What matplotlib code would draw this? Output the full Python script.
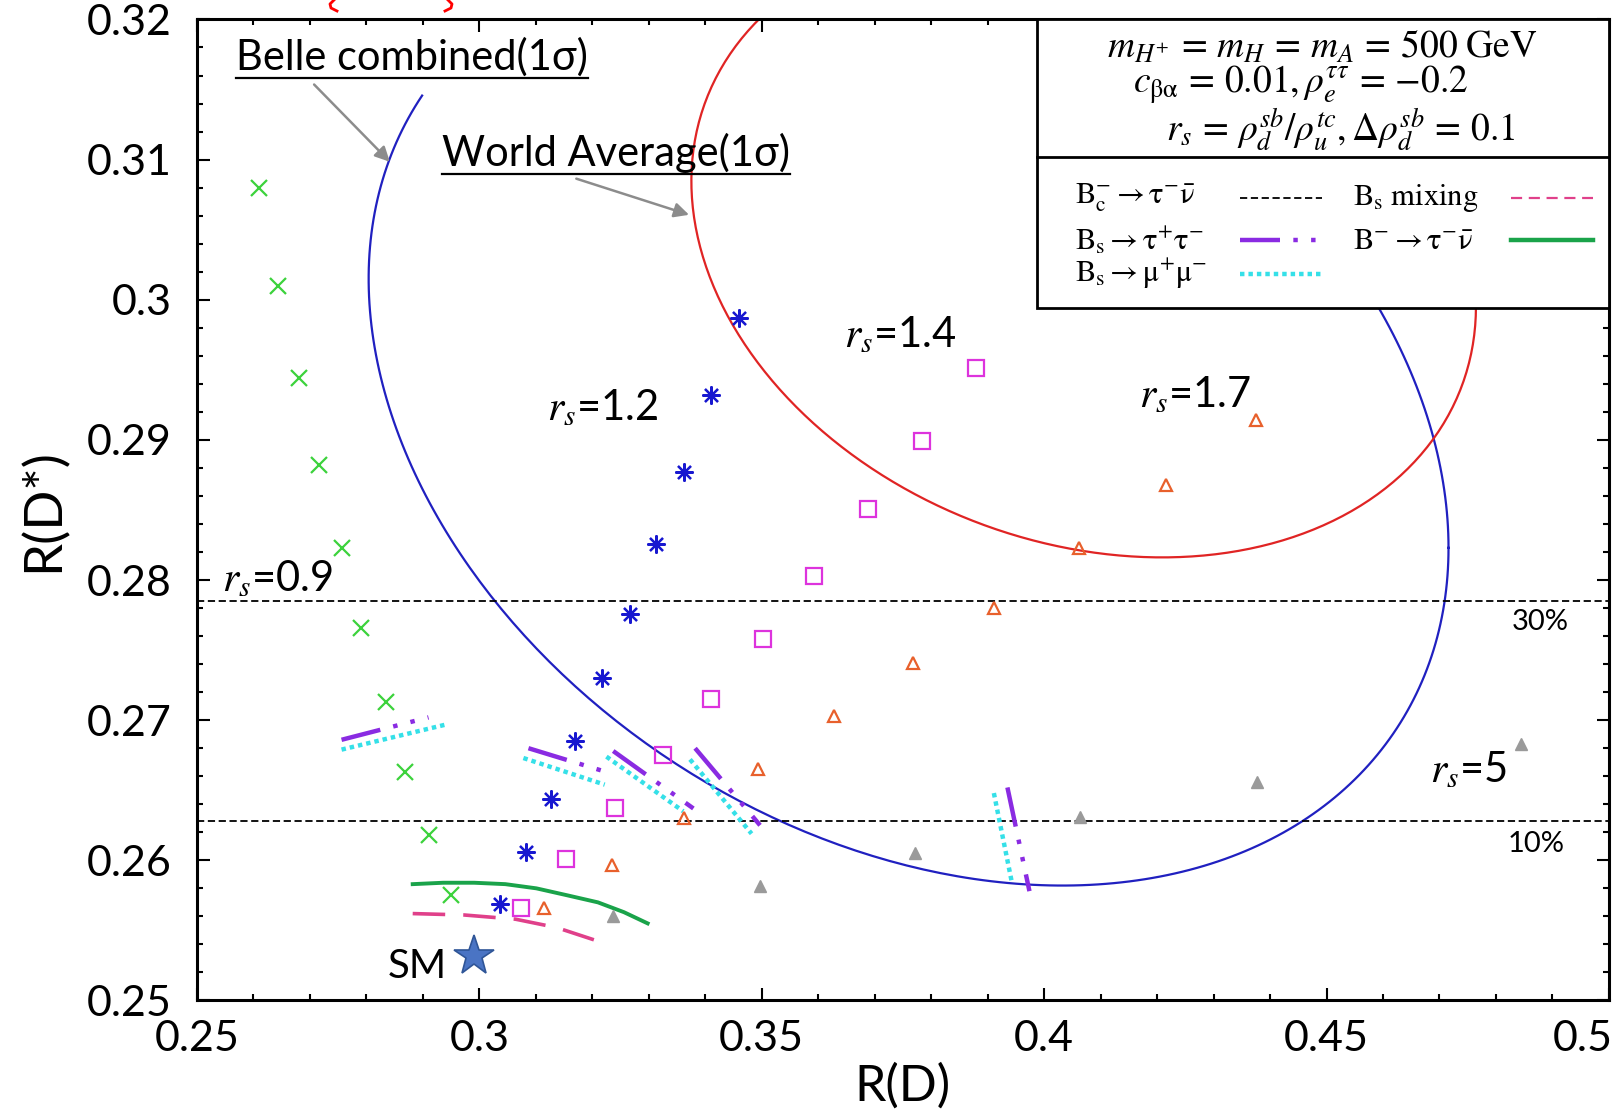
import numpy as np
import matplotlib
matplotlib.use("Agg")
import matplotlib.pyplot as plt
from matplotlib.patches import Rectangle
from matplotlib.lines import Line2D
from matplotlib.ticker import MultipleLocator, FuncFormatter

plt.rcParams['font.family'] = ['Lato', 'DejaVu Sans']
plt.rcParams['mathtext.fontset'] = 'stix'

# points for each r_s value: (R(D), R(D*))
rd_09 = [0.2609, 0.2644, 0.2680, 0.2716, 0.2756, 0.2791, 0.2835, 0.2869, 0.2911, 0.2949]
rds_09 = [0.3080, 0.3010, 0.2944, 0.2882, 0.2823, 0.2766, 0.2713, 0.2663, 0.2618, 0.2575]
rd_12 = [0.3460, 0.3411, 0.3362, 0.3312, 0.3266, 0.3217, 0.3170, 0.3127, 0.3082, 0.3036]
rds_12 = [0.2987, 0.2932, 0.2877, 0.2826, 0.2776, 0.2730, 0.2685, 0.2644, 0.2606, 0.2569]
rd_14 = [0.3880, 0.3784, 0.3688, 0.3593, 0.3502, 0.3411, 0.3325, 0.3240, 0.3153, 0.3073]
rds_14 = [0.2951, 0.2899, 0.2851, 0.2803, 0.2758, 0.2715, 0.2675, 0.2637, 0.2601, 0.2566]
rd_17 = [0.4375, 0.4216, 0.4062, 0.3912, 0.3767, 0.3628, 0.3494, 0.3362, 0.3235, 0.3115]
rds_17 = [0.2914, 0.2868, 0.2823, 0.2780, 0.2741, 0.2703, 0.2665, 0.2630, 0.2597, 0.2566]
rd_5 = [0.4845, 0.4377, 0.4064, 0.3771, 0.3497, 0.3236]
rds_5 = [0.2683, 0.2656, 0.2631, 0.2605, 0.2582, 0.2560]

# standard model point
sm_rd, sm_rds = 0.2991, 0.2532

# constraint boundaries
bc_30 = 0.2785
bc_10 = 0.2628
btau_rd = [0.2882, 0.2936, 0.2991, 0.3046, 0.3101, 0.3156, 0.3210, 0.3256, 0.3298]
btau_rds = [0.2583, 0.2584, 0.2584, 0.2583, 0.2580, 0.2575, 0.2570, 0.2563, 0.2555]
mix_rd = [0.2882, 0.2973, 0.3064, 0.3137, 0.3205]
mix_rds = [0.2562, 0.2561, 0.2558, 0.2552, 0.2543]
tautau_rd = [[0.2756, 0.2910], [0.3087, 0.3225], [0.3237, 0.3379], [0.3382, 0.3497], [0.3935, 0.3974]]
tautau_rds = [[0.2686, 0.2702], [0.2680, 0.2663], [0.2678, 0.2637], [0.2680, 0.2625], [0.2652, 0.2578]]
mumu_rd = [[0.2756, 0.2942], [0.3078, 0.3222], [0.3225, 0.3361], [0.3373, 0.3482], [0.3911, 0.3943]]
mumu_rds = [[0.2679, 0.2697], [0.2673, 0.2654], [0.2674, 0.2635], [0.2672, 0.2619], [0.2648, 0.2584]]

# experimental ellipses: centre, sigmas, correlation, contour scale
belle_c = (0.376, 0.2919)
belle_sig = (0.0956, 0.0337)
belle_rho = -0.285
belle_k = 1.0
wa_c = (0.407, 0.304)
wa_sig = (0.0458, 0.01476)
wa_rho = -0.20
wa_k = np.sqrt(2.3)


def ellipse(c, sig, rho, k, n=400):
    cov = np.array([[sig[0]**2, rho*sig[0]*sig[1]], [rho*sig[0]*sig[1], sig[1]**2]])
    L = np.linalg.cholesky(cov)
    t = np.linspace(0, 2*np.pi, n)
    pts = k * L @ np.vstack([np.cos(t), np.sin(t)])
    return c[0] + pts[0], c[1] + pts[1]


fig = plt.figure(figsize=(16.17, 11.12), dpi=100)
ax = fig.add_axes([0.1218, 0.1003, 0.8732, 0.8822])
ax.set_xlim(0.25, 0.5)
ax.set_ylim(0.25, 0.32)

# Belle ellipse, open at its upper-left end
bx, by = ellipse(belle_c, belle_sig, belle_rho, belle_k)
cut = (bx < 0.33) & (by > 0.3148)
bx[cut] = np.nan
by[cut] = np.nan
ax.plot(bx, by, color='#2020c0', lw=1.6, zorder=2)
wx, wy = ellipse(wa_c, wa_sig, wa_rho, wa_k)
ax.plot(wx, wy, color='#e02424', lw=1.6, zorder=2)

ax.axhline(bc_30, color='k', lw=1.3, ls=(0, (4, 2)), zorder=2)
ax.axhline(bc_10, color='k', lw=1.3, ls=(0, (4, 2)), zorder=2)

tt_style = dict(color='#8a2be2', lw=3.2, ls=(0, (9, 3, 1, 3, 1, 3)), solid_capstyle='butt')
mm_style = dict(color='#35e0e8', lw=3.2, ls=(0, (1, 0.9)))
for xs, ys in zip(tautau_rd, tautau_rds):
    ax.plot(xs, ys, zorder=3, **tt_style)
for xs, ys in zip(mumu_rd, mumu_rds):
    ax.plot(xs, ys, zorder=3, **mm_style)
ax.plot(btau_rd, btau_rds, color='#1aa34a', lw=2.8, zorder=3)
ax.plot(mix_rd, mix_rds, color='#e0408a', lw=2.6, ls=(0, (9, 5)), zorder=3)

ax.plot(rd_09, rds_09, ls='none', marker='x', ms=12, mew=1.6, color='#3cd23c', zorder=4)
ax.plot(rd_12, rds_12, ls='none', marker=(8, 2, 0), ms=13, mew=1.6, color='#1818d0', zorder=4)
ax.plot(rd_14, rds_14, ls='none', marker='s', ms=12, mew=1.6, mfc='none', mec='#dd33dd', zorder=4)
ax.plot(rd_17, rds_17, ls='none', marker='^', ms=9, mew=1.6, mfc='none', mec='#e8602c', zorder=4)
ax.plot(rd_5, rds_5, ls='none', marker='^', ms=9, color='#9a9a9a', zorder=4)
ax.plot(sm_rd, sm_rds, marker='*', ms=30, color='#4a74c4', mec='#2f5597', mew=1.2, zorder=4)

# labels on the plot
ax.text(0.3745, 0.2975, r'$r_s$=1.4', fontsize=30, ha='center', va='center')
ax.text(0.3218, 0.2923, r'$r_s$=1.2', fontsize=30, ha='center', va='center')
ax.text(0.4267, 0.2932, r'$r_s$=1.7', fontsize=30, ha='center', va='center')
ax.text(0.2642, 0.2801, r'$r_s$=0.9', fontsize=30, ha='center', va='center')
ax.text(0.4751, 0.2665, r'$r_s$=5', fontsize=30, ha='center', va='center')
ax.text(0.2891, 0.2524, 'SM', fontsize=29, ha='center', va='center')
ax.text(0.4878, 0.2770, '30%', fontsize=21, ha='center', va='center')
ax.text(0.4872, 0.2612, '10%', fontsize=21, ha='center', va='center')

t_belle = ax.text(0.2569, 0.3173, 'Belle combined(1σ)', fontsize=30, ha='left', va='center')
t_wa = ax.text(0.2933, 0.3105, 'World Average(1σ)', fontsize=30, ha='left', va='center')
ax.annotate('', xy=(0.2845, 0.3097), xytext=(0.2704, 0.3155),
            arrowprops=dict(arrowstyle='-|>', color='#8c8c8c', lw=1.8, mutation_scale=22))
ax.annotate('', xy=(0.3376, 0.3060), xytext=(0.3167, 0.3087),
            arrowprops=dict(arrowstyle='-|>', color='#8c8c8c', lw=1.8, mutation_scale=22))

# legend / parameter box
ax.add_patch(Rectangle((0.595, 0.706), 0.405, 0.294, transform=ax.transAxes,
                       fc='white', ec='k', lw=2, zorder=6, clip_on=False))
ax.add_line(Line2D([0.595, 1.0], [0.860, 0.860], transform=ax.transAxes, color='k', lw=2, zorder=7))
ax.text(0.797, 0.9726, r'$m_{H^{+}}\,=\,m_H\,=\,m_A\,=\,500\ \mathrm{GeV}$', fontsize=27,
        ha='center', va='center', transform=ax.transAxes, zorder=7)
ax.text(0.782, 0.9337, r'$c_{\mathrm{\beta\alpha}}\,=\,0.01, \rho_e^{\tau\tau}\,=\,{-}0.2$', fontsize=27,
        ha='center', va='center', transform=ax.transAxes, zorder=7)
ax.text(0.810, 0.8865, r'$r_s\,=\,\rho_d^{sb}/\rho_u^{tc}, \Delta\rho_d^{sb}\,=\,0.1$', fontsize=27,
        ha='center', va='center', transform=ax.transAxes, zorder=7)

entries = [
    (0.622, 0.818, r'$\mathrm{B_c^{-} \rightarrow \tau^{-}\bar{\nu}}$', dict(color='k', lw=1.3, ls=(0, (4, 2)))),
    (0.622, 0.775, r'$\mathrm{B_s \rightarrow \tau^{+}\tau^{-}}$', tt_style),
    (0.622, 0.741, r'$\mathrm{B_s \rightarrow \mu^{+}\mu^{-}}$', mm_style),
    (0.819, 0.818, r'$\mathrm{B_s\ mixing}$', dict(color='#e0408a', lw=1.6, ls=(0, (5, 3)))),
    (0.819, 0.775, r'$\mathrm{B^{-} \rightarrow \tau^{-}\bar{\nu}}$', dict(color='#1aa34a', lw=3.2)),
]
for x0, y0, label, style in entries:
    ax.text(x0, y0, label, fontsize=22, ha='left', va='center', transform=ax.transAxes, zorder=7)
    sx = (0.739, 0.797) if x0 < 0.7 else (0.931, 0.989)
    ax.add_line(Line2D(sx, [y0, y0], transform=ax.transAxes, zorder=7, **style))

# axes styling
ax.xaxis.set_major_locator(MultipleLocator(0.05))
ax.xaxis.set_minor_locator(MultipleLocator(0.01))
ax.yaxis.set_major_locator(MultipleLocator(0.01))
ax.yaxis.set_minor_locator(MultipleLocator(0.002))
ax.xaxis.set_major_formatter(FuncFormatter(lambda v, p: '' if v > 0.499 else '%g' % round(v, 3)))
ax.yaxis.set_major_formatter(FuncFormatter(lambda v, p: '%g' % round(v, 3)))
ax.tick_params(which='both', direction='in', top=True, right=True, width=1.5)
ax.tick_params(which='major', length=9, labelsize=31)
ax.tick_params(which='minor', length=4.5)
ax.tick_params(axis='x', which='major', pad=14)
ax.tick_params(axis='y', which='major', pad=18)
for s in ax.spines.values():
    s.set_linewidth(2.2)
# last x label sits flush with the right edge
ax.text(1.003, -0.0198, '0.5', fontsize=31, ha='right', va='top', transform=ax.transAxes)
ax.set_xlabel('R(D)', fontsize=36, labelpad=4)
ax.set_ylabel('R(D*)', fontsize=38, labelpad=14)

fig.canvas.draw()
# underline the two experiment labels
r = fig.canvas.get_renderer()
inv = ax.transData.inverted()
for t in (t_belle, t_wa):
    bb = t.get_window_extent(r)
    (x0, y0), (x1, y1) = inv.transform([[bb.x0, bb.y0], [bb.x1, bb.y1]])
    ax.plot([x0, x1], [y0 - 0.0001, y0 - 0.0001], color='k', lw=1.6, zorder=5)

# red marks cut off at the top edge
fig.add_artist(Line2D(np.array([334, 330, 331, 337]) / 1617, 1 - np.array([0, 4, 8, 11]) / 1112,
                      color='red', lw=2))
fig.add_artist(Line2D(np.array([448, 452, 451, 445]) / 1617, 1 - np.array([0, 4, 8, 11]) / 1112,
                      color='red', lw=2))

fig.savefig('out.png', dpi=100)
